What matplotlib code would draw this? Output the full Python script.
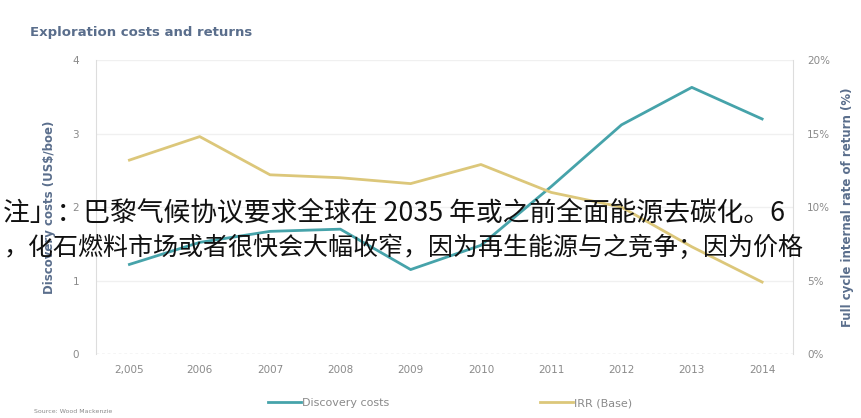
import matplotlib.pyplot as plt
from matplotlib.ticker import FuncFormatter

years = ["2,005", "2006", "2007", "2008", "2009", "2010", "2011", "2012", "2013", "2014"]
discovery_costs = [1.22, 1.52, 1.67, 1.70, 1.15, 1.48, 2.28, 3.12, 3.63, 3.20]
irr_base = [13.2, 14.8, 12.2, 12.0, 11.6, 12.9, 11.0, 10.0, 7.3, 4.9]

note_lines = [
    "注」：巴黎气候协议要求全球在 2035 年或之前全面能源去碳化。6",
    "，化石燃料市场或者很快会大幅收窄，因为再生能源与之竞争；因为价格",
]

teal = "#46a3aa"
gold = "#dcc77a"
grey = "#8a8a8a"
slate = "#5a6e8c"

fig = plt.figure(figsize=(8.62, 4.18), dpi=100)
ax = fig.add_axes([0.111, 0.153, 0.809, 0.703])
ax2 = ax.twinx()

x = range(len(years))
l1, = ax.plot(x, discovery_costs, color=teal, linewidth=2, label="Discovery costs")
l2, = ax2.plot(x, irr_base, color=gold, linewidth=2, label="IRR (Base)")

ax.set_xlim(-0.48, 9.44)
ax.set_ylim(0, 4)
ax2.set_ylim(0, 20)
ax.set_yticks([0, 1, 2, 3, 4])
ax2.set_yticks([0, 5, 10, 15, 20])
ax2.yaxis.set_major_formatter(FuncFormatter(lambda v, p: f"{int(v)}%"))
ax.set_xticks(list(x))
ax.set_xticklabels(years)

# faint horizontal grid
for v in [1, 2, 3, 4]:
    ax.axhline(v, color="#f0f0f0", linewidth=1, zorder=0)
ax.axhline(0, color="#cfcfcf", linewidth=1, linestyle=(0, (2, 2)), zorder=0)

for a in (ax, ax2):
    for s in a.spines.values():
        s.set_visible(False)
    a.tick_params(length=0, labelsize=7.5, colors=grey)
ax.spines["left"].set_visible(True)
ax.spines["left"].set_color("#dddddd")
ax2.spines["right"].set_visible(True)
ax2.spines["right"].set_color("#dddddd")
ax.tick_params(axis="y", pad=12)
ax.tick_params(axis="x", pad=8)
ax2.tick_params(axis="y", pad=10)

ax.set_ylabel("Discovery costs (US$/boe)", fontsize=8.5, color=slate, fontweight="bold", labelpad=12)
ax2.set_ylabel("Full cycle internal rate of return (%)", fontsize=8.5, color=slate, fontweight="bold", labelpad=8)

fig.text(0.035, 0.915, "Exploration costs and returns", fontsize=9.5, fontweight="bold", color=slate)
fig.text(0.04, 0.012, "Source: Wood Mackenzie", fontsize=4.5, color=grey)

fig.legend(handles=[l1, l2], loc="lower center", bbox_to_anchor=(0.522, 0.0), ncol=2,
           frameon=False, fontsize=8, handlelength=3, columnspacing=13.5,
           labelcolor=grey, handletextpad=0.1)

# overlaid note text
fig.text(0.004, 0.49, note_lines[0], fontsize=19.3, color="#111111",
         family=["Noto Sans CJK SC", "DejaVu Sans"], va="center")
fig.text(0.004, 0.408, note_lines[1], fontsize=18, color="#111111",
         family=["Noto Sans CJK SC", "DejaVu Sans"], va="center")

fig.savefig("out.png", dpi=100)
